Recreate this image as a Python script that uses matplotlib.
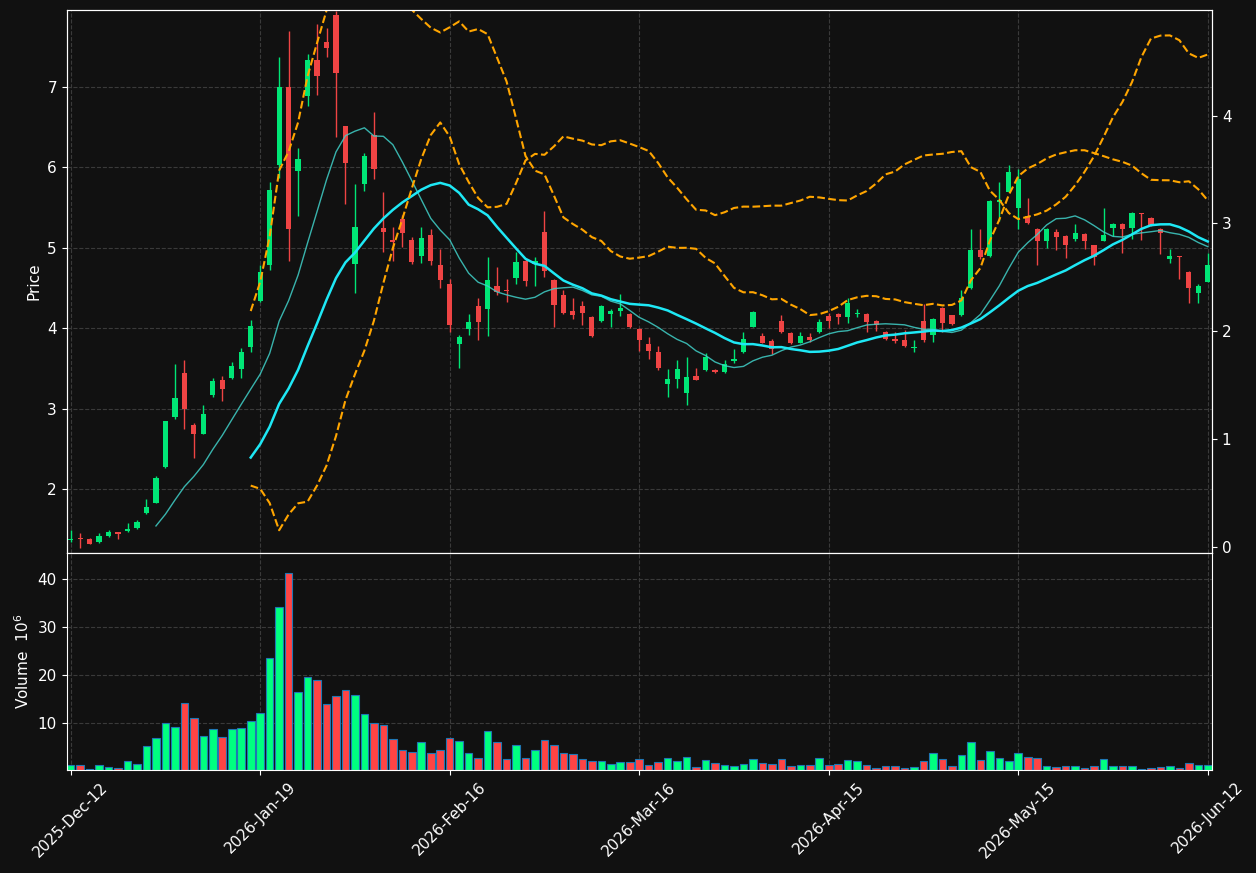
import matplotlib
matplotlib.use('Agg')
import matplotlib.pyplot as plt
import numpy as np
import pandas as pd

opens = [1.37, 1.385, 1.38, 1.34, 1.41, 1.465, 1.48, 1.51, 1.70, 1.83,
         2.27, 2.90, 3.44, 2.80, 2.69, 3.17, 3.35, 3.38, 3.49, 3.77,
         4.34, 4.79, 6.03, 7.00, 5.96, 6.89, 7.34, 7.56, 7.90, 6.51,
         4.80, 5.80, 6.40, 5.25, 5.10, 5.36, 5.10, 4.90, 5.16, 4.79,
         4.55, 3.80, 3.99, 4.28, 4.24, 4.52, 4.47, 4.62, 4.84, 4.80,
         5.20, 4.60, 4.41, 4.21, 4.28, 4.14, 4.09, 4.18, 4.22, 4.18,
         3.99, 3.80, 3.70, 3.31, 3.37, 3.19, 3.41, 3.48, 3.48, 3.46,
         3.59, 3.70, 4.02, 3.90, 3.84, 4.09, 3.94, 3.82, 3.89, 3.95,
         4.15, 4.18, 4.14, 4.18, 4.18, 4.09, 3.95, 3.87, 3.85, 3.75,
         4.09, 3.91, 4.25, 4.16, 4.16, 4.50, 4.97, 4.90, 5.57, 5.70,
         5.50, 5.40, 5.24, 5.09, 5.20, 5.15, 5.11, 5.17, 5.03, 5.09,
         5.25, 5.30, 5.25, 5.43, 5.37, 5.24, 4.86, 4.90, 4.70, 4.44,
         4.58]
highs = [1.49, 1.45, 1.385, 1.45, 1.49, 1.47, 1.58, 1.61, 1.88, 2.16,
         2.85, 3.56, 3.60, 2.82, 3.04, 3.38, 3.40, 3.58, 3.75, 4.10,
         4.79, 5.82, 7.37, 7.70, 6.24, 7.41, 7.79, 7.73, 7.95, 6.51,
         5.80, 6.18, 6.69, 5.70, 5.26, 5.41, 5.14, 5.26, 5.23, 4.99,
         4.61, 3.92, 4.18, 4.37, 4.88, 4.76, 4.61, 4.95, 4.86, 4.89,
         5.46, 4.61, 4.47, 4.37, 4.34, 4.15, 4.29, 4.24, 4.43, 4.19,
         4.00, 3.89, 3.78, 3.49, 3.60, 3.64, 3.51, 3.69, 3.49, 3.61,
         3.74, 3.95, 4.21, 3.94, 3.87, 4.16, 3.95, 3.95, 3.94, 4.12,
         4.19, 4.19, 4.38, 4.24, 4.19, 4.10, 3.96, 3.95, 3.98, 3.85,
         4.30, 4.13, 4.26, 4.17, 4.48, 5.23, 5.23, 5.59, 5.82, 6.03,
         5.98, 5.62, 5.25, 5.25, 5.23, 5.16, 5.30, 5.18, 5.04, 5.50,
         5.31, 5.31, 5.45, 5.43, 5.38, 5.25, 4.98, 4.90, 4.71, 4.55,
         4.93]
lows = [1.34, 1.27, 1.315, 1.33, 1.40, 1.38, 1.46, 1.50, 1.69, 1.82,
        2.26, 2.87, 2.74, 2.39, 2.68, 3.14, 3.10, 3.37, 3.38, 3.71,
        4.33, 4.72, 5.87, 4.83, 5.39, 6.76, 6.90, 7.38, 6.38, 5.55,
        4.44, 5.71, 5.86, 4.95, 4.83, 5.01, 4.80, 4.81, 4.79, 4.50,
        3.95, 3.51, 3.91, 3.85, 3.90, 4.41, 4.33, 4.55, 4.52, 4.53,
        4.64, 4.01, 4.18, 4.11, 4.04, 3.89, 4.08, 4.01, 4.15, 4.00,
        3.72, 3.62, 3.48, 3.14, 3.26, 3.04, 3.35, 3.47, 3.44, 3.44,
        3.57, 3.69, 4.01, 3.81, 3.68, 3.94, 3.80, 3.81, 3.83, 3.94,
        4.00, 4.05, 4.06, 4.14, 3.95, 3.97, 3.85, 3.82, 3.77, 3.71,
        3.83, 3.83, 3.95, 4.04, 4.15, 4.49, 4.86, 4.89, 5.33, 5.69,
        5.24, 5.30, 4.79, 5.00, 4.97, 4.87, 5.09, 4.99, 4.79, 5.08,
        5.15, 4.94, 5.11, 5.10, 5.27, 4.92, 4.81, 4.61, 4.31, 4.31,
        4.57]
closes = [1.38, 1.375, 1.32, 1.41, 1.46, 1.445, 1.50, 1.59, 1.78, 2.14,
          2.84, 3.13, 2.99, 2.69, 2.93, 3.34, 3.24, 3.53, 3.70, 4.03,
          4.70, 5.72, 7.00, 5.24, 6.11, 7.34, 7.14, 7.48, 7.17, 6.05,
          5.26, 6.14, 5.98, 5.20, 5.07, 5.19, 4.82, 5.12, 4.83, 4.60,
          4.04, 3.89, 4.08, 4.08, 4.60, 4.45, 4.46, 4.82, 4.59, 4.84,
          4.71, 4.29, 4.19, 4.16, 4.19, 3.90, 4.28, 4.22, 4.25, 4.02,
          3.85, 3.72, 3.51, 3.37, 3.49, 3.39, 3.36, 3.64, 3.45, 3.56,
          3.62, 3.86, 4.20, 3.82, 3.74, 3.95, 3.81, 3.90, 3.85, 4.08,
          4.09, 4.14, 4.31, 4.19, 4.08, 4.04, 3.87, 3.84, 3.78, 3.77,
          3.85, 4.12, 4.07, 4.05, 4.37, 4.97, 4.89, 5.58, 5.60, 5.94,
          5.86, 5.31, 5.09, 5.24, 5.14, 5.03, 5.18, 5.09, 4.88, 5.16,
          5.30, 5.23, 5.43, 5.42, 5.28, 5.19, 4.90, 4.89, 4.50, 4.52,
          4.79]
# volume in millions
volumes = [1.1, 1.1, 0.3, 1.1, 0.8, 0.5, 2.0, 1.3, 5.1, 6.8,
           9.9, 9.1, 14.2, 11.0, 7.2, 8.7, 7.0, 8.7, 8.9, 10.3,
           12.0, 23.6, 34.3, 41.4, 16.4, 19.6, 19.0, 13.9, 15.5, 16.9,
           15.8, 11.9, 10.0, 9.6, 6.6, 4.3, 3.8, 5.9, 3.7, 4.3,
           6.8, 6.2, 3.7, 2.7, 8.3, 5.9, 2.4, 5.3, 2.6, 4.3,
           6.4, 5.3, 3.7, 3.4, 2.4, 2.0, 2.0, 1.3, 1.7, 1.7,
           2.4, 1.2, 1.8, 2.7, 2.0, 2.9, 0.8, 2.2, 1.5, 1.2,
           0.9, 1.4, 2.4, 1.6, 1.4, 2.4, 0.9, 1.2, 1.2, 2.7,
           1.2, 1.4, 2.2, 2.0, 1.2, 0.5, 0.9, 0.9, 0.5, 0.8,
           2.0, 3.7, 2.4, 0.9, 3.3, 6.0, 2.2, 4.1, 2.7, 2.0,
           3.7, 2.9, 2.7, 0.9, 0.7, 0.9, 0.9, 0.5, 0.9, 2.4,
           0.9, 0.9, 0.9, 0.3, 0.5, 0.8, 0.9, 0.6, 1.6, 1.2,
           1.2]
tick_labels = ['2025-Dec-12', '2026-Jan-19', '2026-Feb-16', '2026-Mar-16',
               '2026-Apr-15', '2026-May-15', '2026-Jun-12']

bg = '#111111'
up_c, down_c = '#00e676', '#ef4444'
vup_c, vdown_c = '#00ff80', '#ff4444'
grid_kw = dict(color='#3a3a3a', linestyle='--', linewidth=0.8)

x = np.arange(len(closes))
o, h, l, c = map(np.array, (opens, highs, lows, closes))
rising = c >= o

s = pd.Series(closes)
ma10 = s.rolling(10).mean()
ma20 = s.rolling(20).mean()
sd20 = s.rolling(20).std(ddof=0)
upper = ma20 + 2 * sd20
lower = ma20 - 2 * sd20

fig = plt.figure(figsize=(12.56, 8.73), dpi=100, facecolor=bg)
ax = fig.add_axes([0.0531, 0.3666, 0.9119, 0.6219], facecolor=bg)
axv = fig.add_axes([0.0531, 0.118, 0.9119, 0.2486], facecolor=bg, sharex=ax)

# candles
cols = np.where(rising, up_c, down_c)
ax.vlines(x, l, h, colors=cols, linewidth=1)
body = np.maximum(np.abs(c - o), 0.012)
ax.bar(x, body, bottom=np.minimum(o, c), width=0.55, color=cols, linewidth=0)

ax.plot(x, ma10, color='#40d0c8', linewidth=1.0, alpha=0.85)
ax.plot(x, ma20, color='#1ee8f5', linewidth=1.8)
ax.plot(x, upper, color='#ffa500', linewidth=1.5, linestyle='--')

# lower band sits on its own right-hand scale
ax2 = ax.twinx()
ax2.plot(x, lower, color='#ffa500', linewidth=1.5, linestyle='--')
ax2.set_ylim(-0.056, 4.98)

ax.set_ylim(1.204, 7.958)
ax.set_xlim(-0.42, 120.45)
ax.set_ylabel('Price', color='white', fontsize=11)

# volume
vcols = np.where(rising, vup_c, vdown_c)
axv.bar(x, volumes, width=0.8, color=vcols, edgecolor='#1f77b4', linewidth=0.8)
axv.set_ylim(0.3 * min(volumes), 1.1 * max(volumes))
axv.set_yticks([10, 20, 30, 40])
axv.set_ylabel('Volume  $10^{6}$', color='white', fontsize=11)

axv.set_xticks(range(0, len(closes), 20))
axv.set_xticklabels(tick_labels, rotation=45, ha='center')
plt.setp(ax.get_xticklabels(), visible=False)
ax.tick_params(axis='x', length=0)

for a in (ax, axv, ax2):
    for sp in a.spines.values():
        sp.set_color('white')
    a.tick_params(colors='white', labelsize=11)
for a in (ax, axv):
    a.grid(True, **grid_kw)
    a.set_axisbelow(True)

fig.savefig('out.png', dpi=100, facecolor=bg)
